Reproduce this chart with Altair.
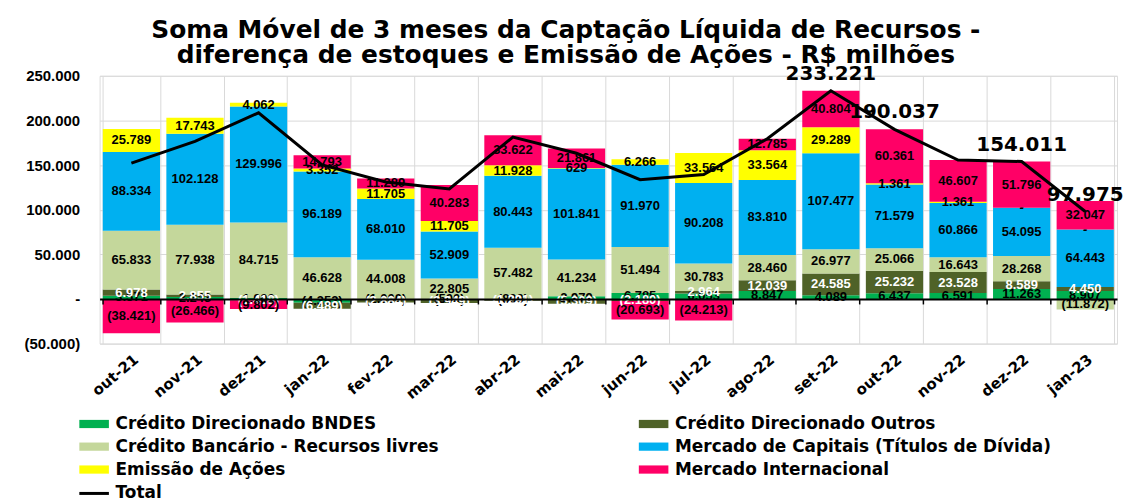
import altair as alt
import pandas as pd

months = ["out-21", "nov-21", "dez-21", "jan-22", "fev-22", "mar-22", "abr-22", "mai-22",
          "jun-22", "jul-22", "ago-22", "set-22", "out-22", "nov-22", "dez-22", "jan-23"]

series_names = [
    "Crédito Direcionado  BNDES",
    "Crédito Direcionado Outros",
    "Crédito Bancário - Recursos livres",
    "Mercado de Capitais (Títulos de Dívida)",
    "Emissão de Ações",
    "Mercado Internacional",
]
series_colors = ["#00B050", "#4F6228", "#C4D79B", "#00B0F0", "#FFFF00", "#FF0066"]

bndes = [3571, 2243, 1000, -4352, -1000, -500, -800, 2979, 6785, 6053, 8847, 4089, 6437, 6591, 11263, 8907]
outros = [6978, 2855, -1418, -6489, -2884, -3949, -1291, -5309, -2180, 2964, 12039, 24585, 25232, 23528, 8589, 4450]
livres = [65833, 77938, 84715, 46628, 44008, 22805, 57482, 41234, 51494, 30783, 28460, 26977, 25066, 16643, 28268, -11872]
capitais = [88334, 102128, 129996, 96189, 68010, 52909, 80443, 101841, 91970, 90208, 83810, 107477, 71579, 60866, 54095, 64443]
acoes = [25789, 17743, 4062, 3352, 11705, 11705, 11928, 629, 6266, 33564, 33564, 29289, 1361, 1361, 0, 0]
internacional = [-38421, -26466, -9802, 14793, 11289, 40283, 33622, 21861, -20693, -24213, 12785, 40804, 60361, 46607, 51796, 32047]

total_label_months = ["set-22", "out-22", "dez-22", "jan-23"]
total_label_texts = ["233.221", "190.037", "154.011", "97.975"]

all_series = [bndes, outros, livres, capitais, acoes, internacional]


def fmt(v):
    if v == 0:
        return "-"
    s = f"{abs(v):,}".replace(",", ".")
    return f"({s})" if v < 0 else s


rows = []
for i, m in enumerate(months):
    pos, neg = 0, 0
    for k, (name, vals) in enumerate(zip(series_names, all_series)):
        v = vals[i]
        if v >= 0:
            y0, y1 = pos, pos + v
            pos += v
        else:
            y0, y1 = neg, neg + v
            neg += v
        rows.append(dict(month=m, series=name, order=k, value=v, y0=y0, y1=y1,
                         mid=(y0 + y1) / 2, label=fmt(v)))
seg = pd.DataFrame(rows)

tot_label_map = dict(zip(total_label_months, total_label_texts))
tot = pd.DataFrame({
    "month": months,
    "total": [sum(s[i] for s in all_series) for i in range(len(months))],
    "serie": ["Total"] * len(months),
    "tlabel": [tot_label_map.get(m, "") for m in months],
})

FONT = "Liberation Sans"
WIDE = "DejaVu Sans"
W, H = 1022, 269

# legend entries laid out column by column (3 rows x 2 columns)
legend_order = [series_names[0], series_names[2], series_names[4],
                series_names[1], series_names[3], series_names[5]]

yscale = alt.Scale(domain=[-50000, 250000], nice=False)
xscale = alt.Scale(paddingInner=0.1, paddingOuter=0.05)

yaxis = alt.Axis(
    values=[-50000, 0, 50000, 100000, 150000, 200000, 250000],
    labelExpr="datum.value == 0 ? '-' : (datum.value < 0 ? '(' + replace(format(-datum.value, ','), ',', '.') + ')' : replace(format(datum.value, ','), ',', '.'))",
    labelFont=FONT, labelFontSize=15, labelFontWeight="bold", labelColor="black",
    labelPadding=20, minExtent=92, domain=False, ticks=False,
    grid=True, gridColor="#D9D9D9", gridWidth=1, title=None,
)

xaxis_labels = alt.Axis(
    orient="bottom", labelAngle=-40, labelFont=WIDE, labelFontSize=15,
    labelFontWeight="bold", labelColor="black", labelPadding=8,
    domain=False, ticks=False, grid=True, gridColor="#D9D9D9", gridWidth=1,
    tickBand="extent", title=None,
)

xaxis_zero = alt.Axis(
    orient="bottom", offset=-H * 50000 / 300000, labels=False, domain=True,
    domainColor="black", domainWidth=2, ticks=True, tickColor="black",
    tickSize=5, tickWidth=1.5, tickBand="extent", grid=False, title=None, zindex=1,
)

bars = alt.Chart(seg).mark_bar().encode(
    x=alt.X("month:N", sort=months, scale=xscale, axis=xaxis_labels),
    y=alt.Y("y0:Q", scale=yscale, axis=yaxis),
    y2="y1:Q",
    color=alt.Color(
        "series:N",
        scale=alt.Scale(domain=series_names, range=series_colors),
        legend=alt.Legend(
            orient="none", legendX=-14, legendY=341, columns=2, columnPadding=200,
            rowPadding=5, title=None, values=legend_order,
            symbolType="M-2.7,-0.75H2.7V0.75H-2.7Z",
            symbolSize=121, symbolStrokeWidth=0, labelFont=WIDE, labelFontSize=17,
            labelFontWeight="bold", labelColor="black", labelLimit=600, labelOffset=13,
        ),
    ),
)

seg_labels = alt.Chart(seg).mark_text(font=FONT, fontSize=13, fontWeight="bold").encode(
    x=alt.X("month:N", sort=months, axis=None),
    y=alt.Y("mid:Q"),
    text="label:N",
    color=alt.condition(alt.datum.series == "Crédito Direcionado Outros",
                        alt.value("white"), alt.value("black")),
)

line = alt.Chart(tot).mark_line(strokeWidth=3).encode(
    x=alt.X("month:N", sort=months, axis=xaxis_zero),
    y=alt.Y("total:Q"),
    stroke=alt.Stroke(
        "serie:N",
        scale=alt.Scale(domain=["Total"], range=["black"]),
        legend=alt.Legend(
            orient="none", legendX=-14, legendY=411, title=None,
            symbolType="M-2.7,0L2.7,0", symbolSize=121, symbolStrokeWidth=3,
            symbolFillColor="transparent", labelFont=WIDE, labelFontSize=17,
            labelFontWeight="bold", labelColor="black", labelOffset=13,
        ),
    ),
)

tot_labels = alt.Chart(tot).mark_text(
    font=WIDE, fontSize=20, fontWeight="bold", dy=-17, color="black"
).encode(
    x=alt.X("month:N", sort=months, axis=None),
    y=alt.Y("total:Q"),
    text="tlabel:N",
)

chart = alt.layer(bars, seg_labels, line, tot_labels).resolve_axis(
    x="independent"
).properties(
    width=W, height=H,
    padding={"left": 0, "top": 9, "right": 0, "bottom": 0},
    title=alt.TitleParams(
        text=["Soma Móvel de 3 meses da Captação Líquida de Recursos -",
              "diferença de estoques e Emissão de Ações - R$ milhões"],
        font=WIDE, fontSize=25, fontWeight="bold", color="black",
        anchor="middle", frame="bounds", lineHeight=25, offset=-4,
    ),
).configure_view(stroke=None).configure(background="white")

chart.save("out.html", embed_options={"renderer": "svg", "actions": False})
